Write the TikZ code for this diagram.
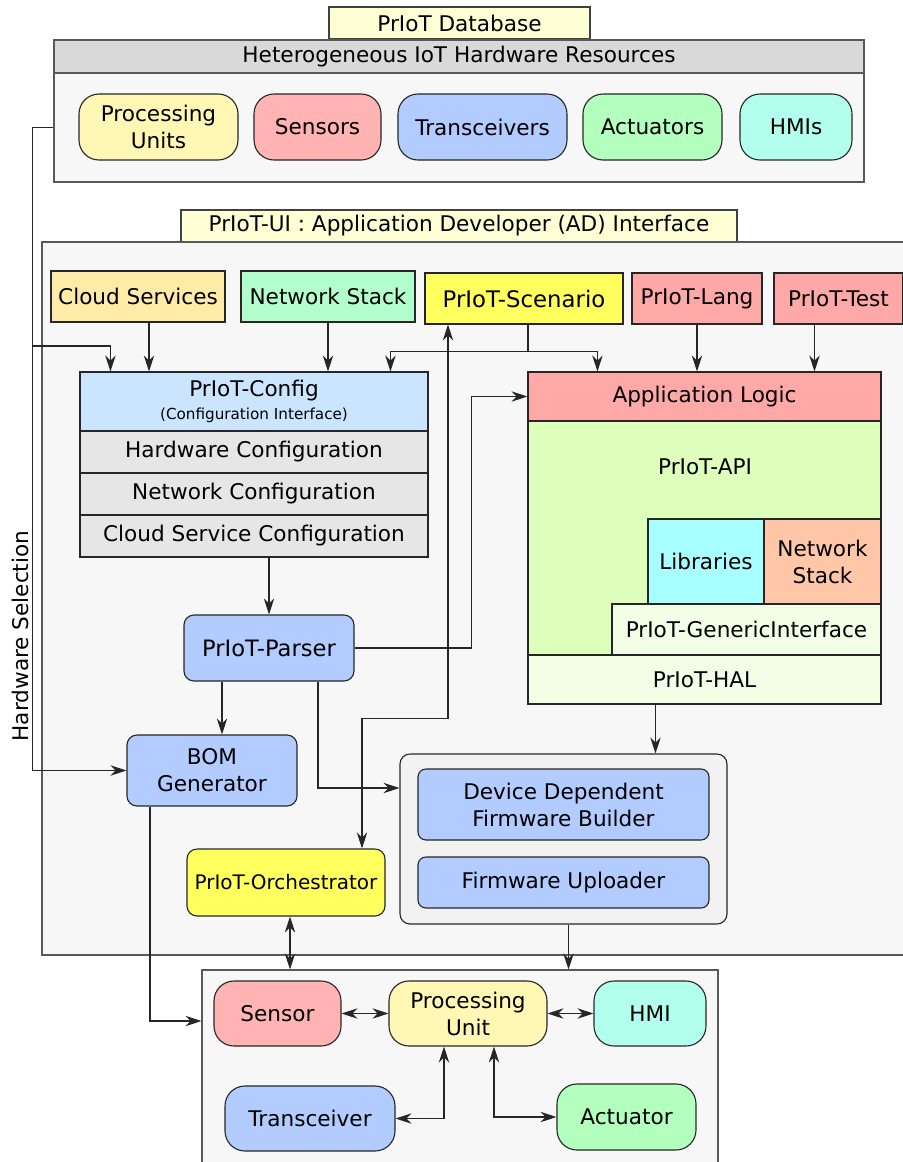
\documentclass[tikz,border=0pt]{standalone}
\usepackage{fontspec}
\setmainfont{DejaVu Sans}
\usepackage{tikz}
\usetikzlibrary{positioning,calc,arrows.meta}

\definecolor{tabyellow}{HTML}{FFFFD5}
\definecolor{hdrgray}{HTML}{D9D9D9}
\definecolor{panelgray}{HTML}{F7F7F7}
\definecolor{puyellow}{HTML}{FFF7B3}
\definecolor{sensred}{HTML}{FFB3B3}
\definecolor{trblue}{HTML}{B3CCFF}
\definecolor{actgreen}{HTML}{B3FFBE}
\definecolor{hmicyan}{HTML}{B3FFEE}
\definecolor{cloudorange}{HTML}{FFEBA8}
\definecolor{netgreen}{HTML}{B3FFCC}
\definecolor{scenyellow}{HTML}{FFFF5E}
\definecolor{langred}{HTML}{FFA8A8}
\definecolor{cfgblue}{HTML}{CCE5FF}
\definecolor{cfggray}{HTML}{E6E6E6}
\definecolor{apigreen}{HTML}{DDFFBB}
\definecolor{libcyan}{HTML}{A8FFFF}
\definecolor{netpeach}{HTML}{FFC7A8}
\definecolor{halgreen}{HTML}{F2FFE6}
\definecolor{buildgray}{HTML}{F2F2F2}

\begin{document}
\begin{tikzpicture}[x=0.5pt,y=-0.5pt,line width=0.55pt,font=\fontsize{10.8}{13.5}\selectfont]
        \tikzstyle{panel}=[draw=black!65, fill=panelgray, inner sep=0pt]
        \tikzstyle{tab}=[draw=black!75, fill=tabyellow, inner sep=0pt]
        \tikzstyle{sbox}=[draw=black!85, align=center, inner sep=0pt]
        \tikzstyle{rbox}=[sbox, rounded corners=10pt]
        \tikzstyle{conn}=[draw=black!85, -{Stealth[length=8pt,width=5.2pt,inset=2.6pt]}]
        \tikzstyle{biconn}=[draw=black!85, {Stealth[length=8pt,width=5.2pt,inset=2.6pt]}-{Stealth[length=8pt,width=5.2pt,inset=2.6pt]}]

        \useasboundingbox (0,0) rectangle (903,1162);

        % hardware database
        \node[tab, minimum width=130.5pt, minimum height=16pt] (dbtab) at (459.5,23) {PrIoT Database};
        \node[panel, minimum width=405pt, minimum height=54.5pt] (hw) at (459,127.5) {};
        \node[panel, fill=hdrgray, minimum width=405pt, minimum height=16.5pt] (hwhead) at (459,56.5) {Heterogeneous IoT Hardware Resources};
        \node[rbox, fill=puyellow, minimum width=79.5pt, minimum height=33pt] (pu) at (158.5,127) {Processing\\Units};
        \node[rbox, fill=sensred, minimum width=63.5pt, minimum height=33pt] (sens) at (317.5,127) {Sensors};
        \node[rbox, fill=trblue, minimum width=84.5pt, minimum height=33pt] (trans) at (482.5,127) {Transceivers};
        \node[rbox, fill=actgreen, minimum width=69.5pt, minimum height=33pt] (act) at (652.5,127) {Actuators};
        \node[rbox, fill=hmicyan, minimum width=56pt, minimum height=33pt] (hmis) at (796,127) {HMIs};

        % application developer interface
        \node[tab, minimum width=278pt, minimum height=16pt] (uitab) at (459,226) {PrIoT-UI : Application Developer (AD) Interface};
        \node[panel, minimum width=434pt, minimum height=356.5pt] (ui) at (476,598.5) {};

        \node[sbox, fill=cloudorange, minimum width=87pt, minimum height=25.5pt] (cloud) at (138,296.5) {Cloud Services};
        \node[sbox, fill=netgreen, minimum width=87pt, minimum height=25.5pt] (netst) at (328,296.5) {Network Stack};
        \node[sbox, fill=scenyellow, minimum width=99pt, minimum height=25.5pt, font=\fontsize{11.4}{14}\selectfont] (scen) at (524,298.5) {PrIoT-Scenario};
        \node[sbox, fill=langred, minimum width=65pt, minimum height=25.5pt] (lang) at (697,298.5) {PrIoT-Lang};
        \node[sbox, fill=langred, minimum width=64.5pt, minimum height=25.5pt] (test) at (838.5,298.5) {PrIoT-Test};

        % configuration
        \node[sbox, fill=cfgblue, minimum width=174pt, minimum height=29.5pt] (cfghead) at (254,401.5) {PrIoT-Config\\[-2pt]{\fontsize{7.6}{9}\selectfont (Configuration Interface)}};
        \node[sbox, fill=cfggray, minimum width=174pt, minimum height=21pt] (hwcfg) at (254,452) {Hardware Configuration};
        \node[sbox, fill=cfggray, minimum width=174pt, minimum height=21pt] (netcfg) at (254,494) {Network Configuration};
        \node[sbox, fill=cfggray, minimum width=174pt, minimum height=21pt] (cldcfg) at (254,536) {Cloud Service Configuration};

        \node[rbox, fill=trblue, rounded corners=5pt, minimum width=85pt, minimum height=33pt, font=\fontsize{11.3}{14}\selectfont] (parser) at (269,648) {PrIoT-Parser};
        \node[rbox, fill=trblue, rounded corners=5pt, minimum width=85pt, minimum height=35.5pt] (bom) at (212,770.5) {BOM\\Generator};
        \node[rbox, fill=scenyellow, rounded corners=5pt, minimum width=99pt, minimum height=33.5pt, font=\fontsize{10}{12}\selectfont] (orch) at (286,882.5) {PrIoT-Orchestrator};

        % firmware
        \node[rbox, fill=buildgray, rounded corners=5pt, minimum width=163.5pt, minimum height=85pt] (build) at (563.5,839) {};
        \node[rbox, fill=trblue, rounded corners=4pt, minimum width=145.5pt, minimum height=35.5pt] (ddfb) at (563.5,804.5) {Device Dependent\\Firmware Builder};
        \node[rbox, fill=trblue, rounded corners=4pt, minimum width=145.5pt, minimum height=25.5pt] (fwup) at (563.5,882.5) {Firmware Uploader};

        % application stack
        \node[sbox, fill=langred, minimum width=176.5pt, minimum height=24.5pt] (applogic) at (704.5,396.5) {Application Logic};
        \node[sbox, fill=apigreen, minimum width=176.5pt, minimum height=117pt] (api) at (704.5,538) {};
        \node (apitxt) at (705,467) {PrIoT-API};
        \node[sbox, fill=libcyan, minimum width=58pt, minimum height=42.5pt] (libs) at (706,561.5) {Libraries};
        \node[sbox, fill=netpeach, minimum width=58.5pt, minimum height=42.5pt] (netst2) at (822.5,561.5) {Network\\Stack};
        \node[sbox, fill=halgreen, minimum width=134.5pt, minimum height=25.5pt] (gi) at (746.5,629.5) {PrIoT-GenericInterface};
        \node[sbox, fill=halgreen, minimum width=176.5pt, minimum height=24.5pt] (hal) at (704.5,679.5) {PrIoT-HAL};

        % device
        \node[panel, minimum width=258pt, minimum height=100pt] (dev) at (460,1070) {};
        \node[rbox, fill=sensred, minimum width=63.5pt, minimum height=32.5pt] (dsens) at (277.5,1013.5) {Sensor};
        \node[rbox, fill=puyellow, minimum width=79pt, minimum height=32.5pt] (dpu) at (468,1013.5) {Processing\\Unit};
        \node[rbox, fill=hmicyan, minimum width=56pt, minimum height=32.5pt] (dhmi) at (650,1013.5) {HMI};
        \node[rbox, fill=trblue, minimum width=85pt, minimum height=32.5pt] (dtrans) at (310,1118.5) {Transceiver};
        \node[rbox, fill=actgreen, minimum width=69.5pt, minimum height=33pt] (dact) at (626.5,1117) {Actuator};

        \node[rotate=90] (hwsel) at (20,636) {Hardware Selection};

        % connectors
        \coordinate (hsplit) at (33,346);
        \draw[conn] (hw.west) -- ++(-21,0) |- (bom.west);
        \draw[conn] (hsplit) -| ([shift={(31,0)}]cfghead.north west);
        \draw[conn] ([shift={(11,0)}]cloud.south) -- ([shift={(11,0)}]cloud.south |- cfghead.north);
        \draw[conn] (netst.south) -- (netst.south |- cfghead.north);
        \draw[draw=black!85] ([shift={(4,0)}]scen.south) -- ++(0,27) coordinate (sj);
        \draw[conn] (sj) -| ([shift={(311,0)}]cfghead.north west);
        \draw[conn] (sj) -| ([shift={(70,0)}]applogic.north west);
        \draw[conn] (lang.south) -- (lang.south |- applogic.north);
        \draw[conn] ([shift={(-24,0)}]test.south) -- ([shift={(-24,0)}]test.south |- applogic.north);
        \draw[conn] (parser.north |- cldcfg.south) -- (parser.north);
        \draw[conn] (parser.east) -- ++(117,0) |- (applogic.west);
        \draw[conn] ([shift={(-47,0)}]parser.south) -- ([shift={(-47,0)}]parser.south |- bom.north);
        \draw[conn] ([shift={(49,0)}]parser.south) |- ([shift={(0,-51)}]build.west);
        \draw[biconn] ([shift={(-76,0)}]scen.south) -- ++(0,394) -| ([shift={(76,0)}]orch.north);
        \draw[conn] ([shift={(-62,0)}]bom.south) |- ([shift={(0,-49)}]dev.west);
        \draw[biconn] ([shift={(4,0)}]orch.south) -- ([shift={(4,0)}]orch.south |- dev.north);
        \draw[conn] ([shift={(-49,0)}]hal.south) -- ([shift={(-49,0)}]hal.south |- build.north);
        \draw[conn] ([shift={(5,0)}]build.south) -- ([shift={(5,0)}]build.south |- dev.north);
        \draw[biconn] (dsens.east) -- (dpu.west);
        \draw[biconn] (dpu.east) -- (dhmi.west);
        \draw[biconn] ([shift={(-24,0)}]dpu.south) |- (dtrans.east);
        \draw[biconn] ([shift={(26,0)}]dpu.south) |- (dact.west);

    \end{tikzpicture}
\end{document}
